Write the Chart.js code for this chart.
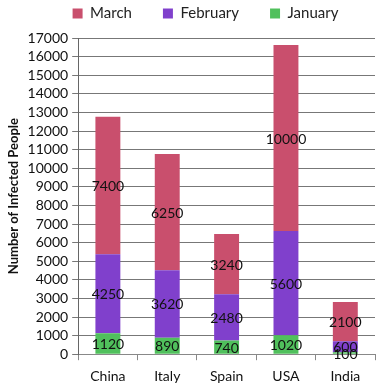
<!DOCTYPE html>
<html><head><meta charset="utf-8">
<script src="https://cdn.jsdelivr.net/npm/chart.js@4"></script>
<style>html,body{margin:0;padding:0;background:#fff}#wrap{width:379px;height:391px}</style>
</head><body><div id="wrap"><canvas id="c"></canvas></div>
<script>
const categories = ["China", "Italy", "Spain", "USA", "India"];
const january = [1120, 890, 740, 1020, 100];
const february = [4250, 3620, 2480, 5600, 600];
const march = [7400, 6250, 3240, 10000, 2100];
const yTicksMax = 17000;
const yStep = 1000;

const FONT = "Lato, 'Open Sans', sans-serif";

const labelPlugin = {
  id: 'segLabels',
  afterDatasetsDraw(chart) {
    const ctx = chart.ctx;
    ctx.save();
    ctx.font = "14px " + FONT;
    ctx.fillStyle = "#111";
    ctx.textAlign = "center";
    ctx.textBaseline = "middle";
    chart.data.datasets.forEach((ds, i) => {
      const meta = chart.getDatasetMeta(i);
      meta.data.forEach((bar, j) => {
        const y = (bar.y + bar.base) / 2;
        ctx.fillText(String(ds.data[j]), bar.x, y + 1);
      });
    });
    ctx.restore();
  }
};

const legendHeightPlugin = {
  id: 'legendHeight',
  afterInit(chart) {
    const lg = chart.legend;
    if (!lg) return;
    const f = lg.fit;
    lg.fit = function () { f.call(this); this.height += 7; };
  },
  afterLayout(chart) {
    const lg = chart.legend;
    if (!lg) return;
    lg.left += 16;
    lg.right += 16;
  }
};

new Chart(document.getElementById('c'), {
  type: 'bar',
  data: {
    labels: categories,
    datasets: [
      { label: 'January', data: january, backgroundColor: '#50C05C' },
      { label: 'February', data: february, backgroundColor: '#8040CC' },
      { label: 'March', data: march, backgroundColor: '#C94F6D' }
    ]
  },
  options: {
    responsive: true,
    maintainAspectRatio: false,
    animation: false,
    layout: { padding: { left: 4, right: 4, top: -25, bottom: -2 } },
    datasets: { bar: { barPercentage: 0.42, categoryPercentage: 1.0 } },
    plugins: {
      legend: {
        position: 'top',
        reverse: true,
        labels: { font: { size: 15, family: FONT }, color: '#222', boxWidth: 10, boxHeight: 10, padding: 31 }
      },
      tooltip: { enabled: false }
    },
    scales: {
      x: {
        stacked: true,
        grid: { offset: true, drawOnChartArea: false, color: '#888', tickLength: 6 },
        border: { color: '#888' },
        ticks: { font: { size: 14, family: FONT }, color: '#111', padding: 8 }
      },
      y: {
        stacked: true,
        min: 0, max: yTicksMax,
        grid: { color: '#777', tickLength: 6 },
        border: { color: '#666' },
        ticks: { stepSize: yStep, autoSkip: false, callback: v => String(v), font: { size: 14, family: FONT }, color: '#111', padding: 4 },
        title: { display: true, text: 'Number of Infected People', font: { size: 13, weight: 'bold', family: FONT }, color: '#111', padding: 2 }
      }
    }
  },
  plugins: [labelPlugin, legendHeightPlugin]
});
</script></body></html>
